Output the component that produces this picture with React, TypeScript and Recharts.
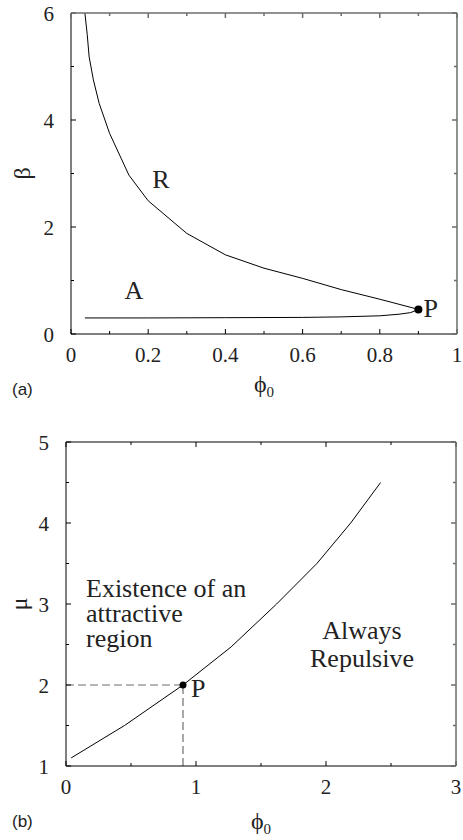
import React from 'react';
import { LineChart, Line, XAxis, YAxis, ReferenceDot, ReferenceLine, Label } from 'recharts';

// panel (a): beta vs phi0
const phiR = [0.036, 0.042, 0.047, 0.058, 0.073, 0.1, 0.15, 0.2, 0.3, 0.4, 0.5, 0.6, 0.7, 0.8, 0.9];
const betaR = [6.0, 5.6, 5.18, 4.75, 4.31, 3.75, 2.97, 2.49, 1.88, 1.48, 1.23, 1.04, 0.83, 0.65, 0.46];
const phiA = [0.036, 0.2, 0.4, 0.6, 0.7, 0.8, 0.85, 0.88, 0.9];
const betaA = [0.3, 0.3, 0.305, 0.31, 0.32, 0.34, 0.37, 0.4, 0.46];
const pointA = { x: 0.9, y: 0.46 };
const ticksXa = [0, 0.1, 0.2, 0.3, 0.4, 0.5, 0.6, 0.7, 0.8, 0.9, 1];
const ticksYa = [0, 1, 2, 3, 4, 5, 6];

// panel (b): mu vs phi0
const phiB = [0.04, 0.45, 0.9, 1.27, 1.62, 1.93, 2.19, 2.42];
const muB = [1.1, 1.5, 2.0, 2.47, 3.0, 3.5, 4.0, 4.5];
const pointB = { x: 0.9, y: 2 };
const ticksXb = [0, 0.5, 1, 1.5, 2, 2.5, 3];
const ticksYb = [1, 1.5, 2, 2.5, 3, 3.5, 4, 4.5, 5];

const dataR = phiR.map((x, i) => ({ x, y: betaR[i] }));
const dataA = phiA.map((x, i) => ({ x, y: betaA[i] }));
const dataB = phiB.map((x, i) => ({ x, y: muB[i] }));

const serif = { fontFamily: '"Liberation Serif", "Times New Roman", serif' };
const sans = { fontFamily: '"Liberation Sans", Arial, sans-serif' };
const GRAY = '#6e6e6e';
const W = 463;

const isMajor = (v: number, step: number) => Math.abs(v / step - Math.round(v / step)) < 1e-6;

// inward ticks + labels for bottom / left axes
const edgeTick = (side: string, step: number) => (props: any) => {
  const { x, y, payload } = props;
  const v = payload.value;
  const major = isMajor(v, step);
  const len = major ? 5 : 3;
  if (side === 'bottom') {
    return (
      <g>
        <path d={`M${x},${y}V${y - len}`} stroke="#000" fill="none" />
        {major && (
          <text x={x} y={y + 28} textAnchor="middle" fontSize={21} style={serif} fill="#222">
            {String(v)}
          </text>
        )}
      </g>
    );
  }
  return (
    <g>
      <path d={`M${x},${y}H${x + len}`} stroke="#000" fill="none" />
      {major && (
        <text x={x - 17} y={y + 8} textAnchor="end" fontSize={21} style={serif} fill="#222">
          {String(v)}
        </text>
      )}
    </g>
  );
};

type Box = {
  h: number;
  m: { top: number; right: number; bottom: number; left: number };
  yw: number;
  xh: number;
  tx: number[];
  ty: number[];
  sx: number;
  sy: number;
  topColor: string;
  topW: number;
};

// top + right frame edges with inward ticks, laid over the plot box of a panel
const Frame = ({ c }: { c: Box }) => {
  const left = c.m.left + c.yw;
  const right = W - c.m.right;
  const top = c.m.top;
  const bottom = c.h - c.m.bottom - c.xh;
  const px = (t: number) => left + ((t - c.tx[0]) / (c.tx[c.tx.length - 1] - c.tx[0])) * (right - left);
  const py = (t: number) => bottom - ((t - c.ty[0]) / (c.ty[c.ty.length - 1] - c.ty[0])) * (bottom - top);
  const topTicks = c.tx.map((t) => `M${px(t)},${top}v${isMajor(t, c.sx) ? 5 : 3}`).join('');
  const rightTicks = c.ty.map((t) => `M${right},${py(t)}h${isMajor(t, c.sy) ? -5 : -3}`).join('');
  return (
    <svg
      width={W}
      height={c.h}
      style={{ position: 'absolute', left: 0, top: 0, pointerEvents: 'none', overflow: 'visible' }}
    >
      <path d={`M${left},${top}H${right}${topTicks}`} stroke={c.topColor} strokeWidth={c.topW} fill="none" />
      <path d={`M${right},${top}V${bottom}${rightTicks}`} stroke={GRAY} strokeWidth={1.5} fill="none" />
    </svg>
  );
};

const xTitle = (tag: string, base: number) => (props: any) => {
  const { x, y, width } = props.viewBox;
  return (
    <g>
      <text x={x + width / 2} y={y + base} textAnchor="middle" fontSize={24} style={serif} fill="#222">
        ϕ<tspan fontSize={15} dy={5}>0</tspan>
      </text>
      <text x={12} y={y + 61} fontSize={17} style={sans} fill="#222">
        {tag}
      </text>
    </g>
  );
};

const yTitle = (sym: string, bx: number) => (props: any) => {
  const { y, height } = props.viewBox;
  return (
    <text
      transform={`translate(${bx},${y + height / 2}) rotate(-90)`}
      textAnchor="middle"
      fontSize={24}
      style={serif}
      fill="#222"
    >
      {sym}
    </text>
  );
};

const textAt = (lines: string[], anchor: 'start' | 'middle', gap: number) => (p: any) => (
  <g>
    {lines.map((s, i) => (
      <text key={i} x={p.cx} y={p.cy + i * gap} textAnchor={anchor} fontSize={26} style={serif} fill="#222">
        {s}
      </text>
    ))}
  </g>
);

const dotP = (r: number, dx: number, dy: number) => (p: any) => (
  <g>
    <circle cx={p.cx} cy={p.cy} r={r} fill="#000" />
    <text x={p.cx + dx} y={p.cy + dy} fontSize={26} style={serif} fill="#222">
      P
    </text>
  </g>
);

const boxA: Box = {
  h: 400, m: { top: 13, right: 6, bottom: 0, left: 0 }, yw: 71, xh: 66,
  tx: ticksXa, ty: ticksYa, sx: 0.2, sy: 2, topColor: GRAY, topW: 1.5,
};

const PanelA = () => (
  <LineChart width={W} height={boxA.h} margin={boxA.m}>
    <XAxis
      dataKey="x"
      type="number"
      domain={[0, 1]}
      ticks={ticksXa}
      interval={0}
      height={boxA.xh}
      tickLine={false}
      tickSize={0}
      tickMargin={0}
      axisLine={{ stroke: '#000' }}
      tick={edgeTick('bottom', 0.2)}
      label={{ content: xTitle('(a)', 58) }}
    />
    <YAxis
      type="number"
      domain={[0, 6]}
      ticks={ticksYa}
      interval={0}
      width={boxA.yw}
      tickLine={false}
      tickSize={0}
      tickMargin={0}
      axisLine={{ stroke: '#000' }}
      tick={edgeTick('left', 2)}
    >
      <Label content={yTitle('β', 30)} />
    </YAxis>
    <Line data={dataR} dataKey="y" type="linear" stroke="#000" strokeWidth={1} dot={false} isAnimationActive={false} />
    <Line data={dataA} dataKey="y" type="linear" stroke="#000" strokeWidth={1} dot={false} isAnimationActive={false} />
    <ReferenceDot x={0.233} y={2.72} r={0} shape={textAt(['R'], 'middle', 0)} />
    <ReferenceDot x={0.163} y={0.65} r={0} shape={textAt(['A'], 'middle', 0)} />
    <ReferenceDot x={pointA.x} y={pointA.y} r={4} shape={dotP(4, 5, 8)} />
  </LineChart>
);

const boxB: Box = {
  h: 440, m: { top: 42, right: 7, bottom: 0, left: 0 }, yw: 66, xh: 74,
  tx: ticksXb, ty: ticksYb, sx: 1, sy: 1, topColor: '#000', topW: 1,
};

const PanelB = () => (
  <LineChart width={W} height={boxB.h} margin={boxB.m}>
    <XAxis
      dataKey="x"
      type="number"
      domain={[0, 3]}
      ticks={ticksXb}
      interval={0}
      height={boxB.xh}
      tickLine={false}
      tickSize={0}
      tickMargin={0}
      axisLine={{ stroke: '#000' }}
      tick={edgeTick('bottom', 1)}
      label={{ content: xTitle('(b)', 63) }}
    />
    <YAxis
      type="number"
      domain={[1, 5]}
      ticks={ticksYb}
      interval={0}
      width={boxB.yw}
      tickLine={false}
      tickSize={0}
      tickMargin={0}
      axisLine={{ stroke: '#000' }}
      tick={edgeTick('left', 1)}
    >
      <Label content={yTitle('μ', 27)} />
    </YAxis>
    <ReferenceLine
      segment={[{ x: 0, y: pointB.y }, { x: pointB.x, y: pointB.y }]}
      stroke={GRAY}
      strokeWidth={1.2}
      strokeDasharray="8 4"
    />
    <ReferenceLine
      segment={[{ x: pointB.x, y: 1 }, { x: pointB.x, y: pointB.y }]}
      stroke={GRAY}
      strokeWidth={1.2}
      strokeDasharray="8 4"
    />
    <Line data={dataB} dataKey="y" type="linear" stroke="#000" strokeWidth={1} dot={false} isAnimationActive={false} />
    <ReferenceDot x={0.154} y={3.09} r={0} shape={textAt(['Existence of an', 'attractive', 'region'], 'start', 25)} />
    <ReferenceDot x={2.277} y={2.573} r={0} shape={textAt(['Always', 'Repulsive'], 'middle', 28)} />
    <ReferenceDot x={pointB.x} y={pointB.y} r={3.5} shape={dotP(3.5, 8, 12)} />
  </LineChart>
);

export default function App() {
  return (
    <div style={{ position: 'absolute', left: 0, top: 0, width: W, height: 840, background: '#fff' }}>
      <div style={{ position: 'absolute', left: 0, top: 0, width: W, height: boxA.h }}>
        <PanelA />
        <Frame c={boxA} />
      </div>
      <div style={{ position: 'absolute', left: 0, top: 400, width: W, height: boxB.h }}>
        <PanelB />
        <Frame c={boxB} />
      </div>
    </div>
  );
}
